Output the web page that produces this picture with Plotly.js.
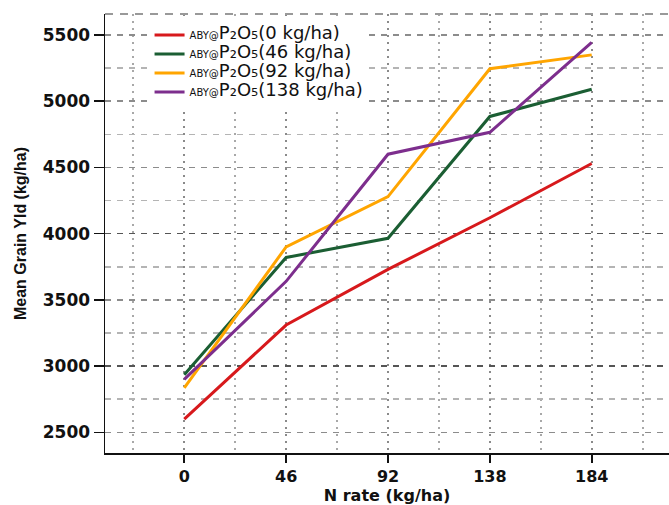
<!DOCTYPE html>
<html>
<head>
<meta charset="utf-8">
<script src="https://cdn.plot.ly/plotly-3.0.1.min.js"></script>
<style>html,body{margin:0;padding:0;background:#fff;}</style>
</head>
<body>
<div id="chart" style="width:669px;height:505px;"></div>
<script>
// N rate (kg/ha)
const nRates = [0, 46, 92, 138, 184];
// Mean grain yield (kg/ha) by P2O5 rate
const yieldP0   = [2600, 3310, 3730, 4120, 4530];
const yieldP46  = [2935, 3820, 3965, 4885, 5090];
const yieldP92  = [2835, 3900, 4280, 5245, 5350];
const yieldP138 = [2900, 3640, 4600, 4765, 5445];
const pRates = ['0', '46', '92', '138'];
const seriesNames = pRates.map(p =>
  '<span style="font-size:10px">ABY@</span><span style="font-size:18px">P₂O₅(' + p + ' kg/ha)</span>');
const seriesColors = ['#d7191c', '#1b5e33', '#ffa500', '#7d2e8d'];
const seriesValues = [yieldP0, yieldP46, yieldP92, yieldP138];
const xTickLabels = ['0', '46', '92', '138', '184'];
const xMinorTicks = [-23, 23, 69, 115, 161, 207];
const darkGridValues = [3000, 4000];

const traces = seriesValues.map((vals, i) => ({
  type: 'scatter', mode: 'lines',
  x: nRates, y: vals, name: seriesNames[i],
  line: {color: seriesColors[i], width: 3}
}));
// invisible carrier trace so the overlay axis (darker grid lines) gets drawn
traces.unshift({type: 'scatter', mode: 'lines', x: nRates, y: yieldP0, yaxis: 'y2',
  line: {width: 0}, opacity: 0, showlegend: false, hoverinfo: 'skip'});

const tickFontX = {family: 'DejaVu Sans', size: 16, color: '#111', weight: 700};
const tickFontY = {family: 'DejaVu Sans', size: 17, color: '#111', weight: 700};
const yRange = [2343.7, 5658.6];

const layout = {
  width: 669, height: 505,
  margin: {l: 105, r: 0, t: 14, b: 52, pad: 0},
  paper_bgcolor: '#fff', plot_bgcolor: '#fff',
  showlegend: true,
  legend: {
    x: 0.079, y: 0.985, xanchor: 'left', yanchor: 'top',
    bgcolor: '#fff', borderwidth: 0,
    font: {family: 'DejaVu Sans', size: 11, color: '#111'},
    tracegroupgap: 0
  },
  xaxis: {
    range: [-35.8, 218.9],
    tickmode: 'array', tickvals: nRates, ticktext: xTickLabels,
    tickfont: tickFontX,
    ticks: 'outside', ticklen: 8, tickwidth: 2, tickcolor: '#111',
    showline: true, linecolor: '#111', linewidth: 1.5,
    showgrid: true, gridcolor: '#8a8a8a', gridwidth: 2, griddash: '2px,5px',
    zeroline: false,
    minor: {tickvals: xMinorTicks, showgrid: true, gridcolor: '#a8a8a8', gridwidth: 2, griddash: '2px,5px', ticks: ''},
    title: {text: 'N rate (kg/ha)', font: {family: 'DejaVu Sans', size: 16, color: '#111', weight: 700}, standoff: 22}
  },
  yaxis: {
    range: yRange,
    tickmode: 'linear', tick0: 2500, dtick: 500,
    tickfont: tickFontY,
    ticks: 'outside', ticklen: 10, tickwidth: 1.5, tickcolor: '#111',
    showline: true, linecolor: '#111', linewidth: 1.5,
    showgrid: true, gridcolor: '#8c8c8c', gridwidth: 1.5, griddash: '6px,6px',
    zeroline: false,
    minor: {tick0: 2250, dtick: 500, showgrid: true, gridcolor: '#b4b4b4', gridwidth: 1.5, griddash: '6px,6px', ticks: ''},
    title: {text: 'Mean Grain Yld (kg/ha)', font: {family: 'Liberation Sans', size: 16, color: '#111', weight: 700}, standoff: 12}
  },
  yaxis2: {
    overlaying: 'y', side: 'left', range: yRange,
    tickmode: 'array', tickvals: darkGridValues,
    showticklabels: false, ticks: '', showline: false, zeroline: false,
    showgrid: true, gridcolor: '#555', gridwidth: 1.5, griddash: '6px,6px'
  },
  shapes: [
    {type: 'line', xref: 'paper', yref: 'paper', x0: 0, x1: 1, y0: 1, y1: 1,
     line: {color: '#999', width: 2, dash: '8px,7px'}, layer: 'above'}
  ]
};

Plotly.newPlot('chart', traces, layout, {displayModeBar: false, staticPlot: true});
</script>
</body>
</html>
